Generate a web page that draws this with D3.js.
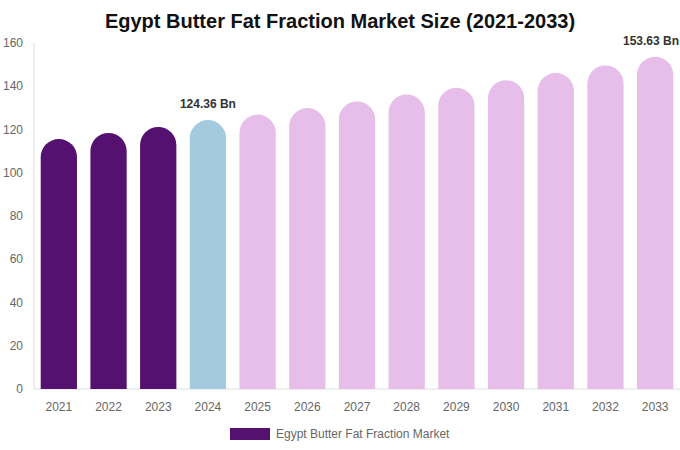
<!DOCTYPE html>
<html><head><meta charset="utf-8">
<script src="https://cdn.jsdelivr.net/npm/d3@7"></script>
<style>body{margin:0;background:#fff;font-family:"Liberation Sans",Arial,sans-serif;}</style>
</head><body><svg id="c" width="680" height="450"></svg>
<script>
const years = ["2021","2022","2023","2024","2025","2026","2027","2028","2029","2030","2031","2032","2033"];
const values = [115.6,118.4,121.2,124.36,126.9,129.9,133.0,136.2,139.3,142.8,146.1,149.6,153.63];
const barColors = ["#541170","#541170","#541170","#a3cadf","#e7bde9","#e7bde9","#e7bde9","#e7bde9","#e7bde9","#e7bde9","#e7bde9","#e7bde9","#e7bde9"];
const labeled = {"2024":"124.36 Bn","2033":"153.63 Bn"};
const yTicks = [0,20,40,60,80,100,120,140,160];
const title = "Egypt Butter Fat Fraction Market Size (2021-2033)";
const legendLabel = "Egypt Butter Fat Fraction Market";

const svg = d3.select("#c");
const m = {l:34, r:680, t:43, b:389};
const x = d3.scaleBand().domain(years).range([m.l, m.r]).paddingInner(0.27).paddingOuter(0.135);
const y = d3.scaleLinear().domain([0,160]).range([m.b, m.t]);

svg.append("text").attr("x",340).attr("y",28).attr("text-anchor","middle")
  .attr("font-size",20).attr("font-weight","bold").attr("fill","#111").text(title);

svg.append("line").attr("x1",m.l).attr("x2",m.l).attr("y1",m.t).attr("y2",m.b).attr("stroke","#ddd");
svg.append("line").attr("x1",m.l).attr("x2",m.r).attr("y1",m.b).attr("y2",m.b).attr("stroke","#ddd");

svg.selectAll(".yt").data(yTicks).enter().append("text")
  .attr("x",23).attr("y",d=>y(d)+4).attr("text-anchor","end")
  .attr("font-size",12).attr("fill","#666").text(d=>d);

svg.selectAll(".xt").data(years).enter().append("text")
  .attr("x",d=>x(d)+x.bandwidth()/2).attr("y",411).attr("text-anchor","middle")
  .attr("font-size",12).attr("fill","#666").text(d=>d);

function barPath(x0,w,yt,yb){
  const r = w/2;
  return `M${x0},${yb}V${yt+r}A${r},${r} 0 0 1 ${x0+w},${yt+r}V${yb}Z`;
}
svg.selectAll(".bar").data(years).enter().append("path")
  .attr("d",(d,i)=>barPath(x(d), x.bandwidth(), y(values[i]), y(0)))
  .attr("fill",(d,i)=>barColors[i]);

svg.selectAll(".lbl").data(years.filter(d=>labeled[d])).enter().append("text")
  .attr("x",d=>x(d)+x.bandwidth()/2).attr("y",d=>y(values[years.indexOf(d)])-12)
  .attr("text-anchor","middle").attr("font-size",12).attr("font-weight","bold")
  .attr("fill","#333").text(d=>labeled[d])
  .each(function(){
    const bb = this.getBBox();
    if (bb.x + bb.width > 679) {
      d3.select(this).attr("x", +d3.select(this).attr("x") - (bb.x + bb.width - 679));
    }
  });

svg.append("rect").attr("x",230).attr("y",428).attr("width",40).attr("height",12).attr("fill","#541170");
svg.append("text").attr("x",276).attr("y",438).attr("font-size",12).attr("fill","#666").text(legendLabel);
</script></body></html>
